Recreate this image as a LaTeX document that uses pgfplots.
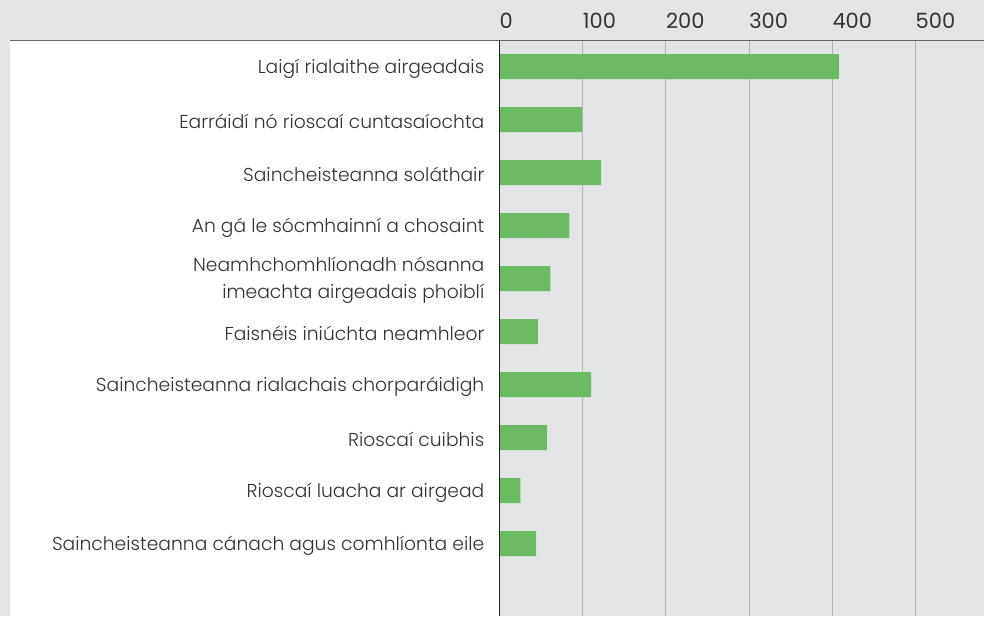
\documentclass[border=0pt]{standalone}
\usepackage{fontspec}
\setmainfont{Poppins}[UprightFont={* Light}]
\newfontfamily\tickfont{Poppins}
\usepackage{pgfplots}
\pgfplotsset{compat=1.18}
\definecolor{bgrey}{HTML}{E3E4E6}
\definecolor{bargreen}{HTML}{6DBA65}
\definecolor{gridgrey}{HTML}{B4B4B6}
\definecolor{txt}{HTML}{333333}

\begin{document}
\begin{tikzpicture}
\fill[bgrey] (0pt,0pt) rectangle (984pt,-616pt);
\fill[white] (10pt,-40pt) rectangle (499.5pt,-616pt);
\begin{axis}[
    at={(499.5pt,-40pt)}, anchor=north west,
    scale only axis,
    width=484.5pt, height=576pt,
    xbar,
    bar width=25pt,
    xmin=0, xmax=582.3,
    ymin=-0.5, ymax=10.368,
    y dir=reverse,
    axis line style={draw=none},
    xtick={0,100,...,500},
    xticklabel pos=upper,
    xmajorgrids,
    grid style={gridgrey, line width=0.9pt},
    major tick length=0pt,
    xticklabel style={anchor=base west, inner sep=0pt, yshift=12pt, font=\tickfont\fontsize{21}{24}\selectfont, text=txt},
    /pgf/number format/assume math mode=true,
    ytick={0,...,9},
    yticklabels={Laigí rialaithe airgeadais, Earráidí nó rioscaí cuntasaíochta, Saincheisteanna soláthair, An gá le sócmhainní a chosaint, {Neamhchomhlíonadh nósanna\\imeachta airgeadais phoiblí}, Faisnéis iniúchta neamhleor, Saincheisteanna rialachais chorparáidigh, Rioscaí cuibhis, Rioscaí luacha ar airgead, Saincheisteanna cánach agus comhlíonta eile},
    yticklabel style={align=right, inner sep=0pt, xshift=-15pt, yshift=-2pt, font=\fontsize{18.7}{27}\selectfont, text=txt},
]
\addplot[fill=bargreen, draw=none] coordinates {
(408,0) (99,1) (122,2) (84,3) (61,4) (46,5) (110,6) (57,7) (25,8) (44,9)
};
\end{axis}
\draw[gray!80!black, line width=1pt] (10pt,-40pt) -- (984pt,-40pt);
\draw[black!85, line width=1.8pt] (499.5pt,-40pt) -- (499.5pt,-616pt);
\pgfresetboundingbox
\path (0pt,0pt) rectangle (984pt,-616pt);
\end{tikzpicture}
\end{document}
